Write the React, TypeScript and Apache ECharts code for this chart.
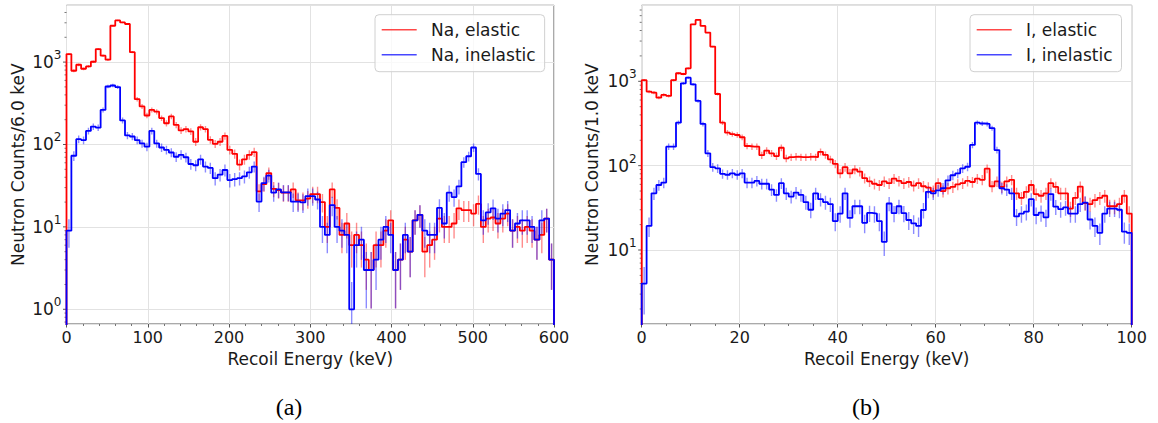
import { useEffect, useRef } from "react";
import * as echarts from "echarts";

// Counts per bin, read left to right. Na spectrum: 6 keV bins from 0 to 600 keV.
const naElastic = [
  1250, 785, 928, 830, 886, 1010, 1440, 1195, 1070, 2760,
  3200, 3030, 2900, 1320, 355, 290, 225, 263, 250, 209,
  181, 219, 173, 148, 154, 144, 108, 162, 154, 114,
  102, 108, 127, 86, 77, 57, 66, 75, 81, 27,
  33, 45, 29, 28, 26, 26, 28.5, 21, 21, 22,
  25, 25, 20, 10, 28.5, 17, 8, 11, 6, 8,
  6, 4, 3, 6, 6, 9, 12, 3, 4, 7,
  5, 12, 14, 5, 6, 7, 12.6, 10, 10, 11,
  16.8, 16, 16, 14.5, 19, 10, 12.6, 13, 11, 12.6,
  14.5, 9, 10, 9, 10, 9, 7, 8, 12.6, 4,
];

const naInelastic = [
  9, 73, 116, 113, 146, 165, 160, 263, 506, 520,
  497, 196, 129, 125, 113, 103, 94, 146, 103, 92,
  86, 80, 71, 75, 70, 58, 56, 66, 54, 52,
  39, 43, 49, 37, 38, 39, 41, 46, 54, 20.3,
  34, 42, 26, 28.5, 26.3, 26.3, 20.3, 20.3, 19.8, 23.6,
  23.6, 21.5, 10, 8, 18.4, 10, 9, 8, 1, 6,
  7, 3, 3, 4, 7, 10, 8, 3, 4, 8,
  5, 12, 14, 9, 8, 8, 17, 11, 26, 23,
  31, 61, 72, 92, 44, 12, 15, 16.8, 12.6, 14.5,
  16, 9, 11, 12, 12, 10, 7, 12, 12.6, 4,
];

// I spectrum: 1 keV bins from 0 to 100 keV.
const iElastic = [
  1030, 755, 734, 640, 690, 670, 1030, 1245, 1220, 1425,
  4740, 5340, 4530, 3780, 2580, 707, 323, 246, 237, 231,
  217, 171, 168, 168, 133, 151, 140, 130, 163, 122,
  126, 128, 126, 126, 128, 126, 146, 134, 119, 105,
  81, 96, 81, 90, 85, 71, 65, 61, 59, 65,
  62, 70, 66, 62, 64, 58, 62, 57, 55, 50,
  62, 50, 54, 56, 60, 62, 66, 64, 70, 68,
  92, 57, 65, 56, 65, 68, 47, 41.5, 49, 59,
  46, 44, 47, 62, 56, 47, 47, 31, 41.5, 56.5,
  36, 35, 39, 41.5, 44, 33, 33, 35, 44, 27,
];

const iInelastic = [
  4, 19.3, 47, 59, 63, 168, 168, 323, 947, 1105,
  920, 585, 312, 140, 96, 93, 80, 78, 81, 78,
  81, 63, 63, 66, 61, 61, 52, 45, 62, 47,
  43, 48, 45, 37, 30, 47, 40, 37, 35, 22,
  27, 47, 24, 33, 33, 21, 27.5, 27, 22, 12.5,
  35.6, 27.3, 33, 27.3, 22.7, 20.7, 19.3, 29.8, 49, 47,
  51, 54, 67, 77, 81, 93, 97, 176, 323, 316,
  312, 278, 153, 54, 52, 47, 25, 27, 28.5, 40,
  26, 27.7, 24.4, 46, 32.6, 30.5, 32, 27, 27, 35,
  36.5, 23, 19.3, 16, 27, 31, 31, 30, 16.5, 16,
];

const legendNames = [
  ["Na, elastic", "Na, inelastic"],
  ["I, elastic", "I, inelastic"],
];
const yTitles = ["Neutron Counts/6.0 keV", "Neutron Counts/1.0 keV"];
const xTitle = "Recoil Energy (keV)";
const captions = ["(a)", "(b)"];

// Statistical weight of one simulated count, used for the Poisson error bars.
const countWeight = 1.3;

const FONT = "DejaVu Sans";
const TEXT = "#1a1a1a";
const SPINE = "#555555";
const GRIDLINE = "#e2e2e2";
const RED = "#ff0000";
const BLUE = "#0000ff";

type Panel = {
  grid: { left: number; top: number; width: number; height: number };
  binWidth: number;
  xMax: number;
  xInterval: number;
  minorSplit: number;
  yMin: number;
  yMax: number;
  nameGap: number;
  sets: { name: string; values: number[]; color: string; light: string; legend: string }[];
  legendPos: { left: number; top: number };
  captionX: number;
};

const panels: Panel[] = [
  {
    grid: { left: 66.5, top: 5.3, width: 487.5, height: 318.7 },
    binWidth: 6,
    xMax: 600,
    xInterval: 100,
    minorSplit: 5,
    yMin: 0.663,
    yMax: 4890,
    nameGap: 40,
    sets: [
      { name: legendNames[0][0], values: naElastic, color: RED, light: "rgba(255,0,0,0.45)", legend: "rgba(255,0,0,0.72)" },
      { name: legendNames[0][1], values: naInelastic, color: BLUE, light: "rgba(0,0,255,0.45)", legend: "rgba(0,0,255,0.72)" },
    ],
    legendPos: { left: 375, top: 14.7 },
    captionX: 289,
  },
  {
    grid: { left: 641.7, top: 5.3, width: 490, height: 318.7 },
    binWidth: 1,
    xMax: 100,
    xInterval: 20,
    minorSplit: 4,
    yMin: 1.327,
    yMax: 7960,
    nameGap: 41.7,
    sets: [
      { name: legendNames[1][0], values: iElastic, color: RED, light: "rgba(255,0,0,0.45)", legend: "rgba(255,0,0,0.72)" },
      { name: legendNames[1][1], values: iInelastic, color: BLUE, light: "rgba(0,0,255,0.45)", legend: "rgba(0,0,255,0.72)" },
    ],
    legendPos: { left: 970, top: 14.7 },
    captionX: 866,
  },
];

const FLOOR = 1e-3;

// Histogram outline: rises from the floor at the first edge, steps across every bin, drops at the last edge.
function stepData(values: number[], bw: number) {
  const pts: number[][] = [[0, FLOOR]];
  values.forEach((v, i) => pts.push([i * bw, v]));
  const end = values.length * bw;
  pts.push([end, values[values.length - 1]]);
  pts.push([end, FLOOR]);
  return pts;
}

function errorData(values: number[], bw: number) {
  return values.map((v, i) => {
    const e = Math.sqrt(v * countWeight);
    return [i * bw + bw / 2, Math.max(v - e, FLOOR), v + e];
  });
}

function logTicks(min: number, max: number) {
  const out: number[] = [];
  for (let d = Math.floor(Math.log10(min)); d <= Math.ceil(Math.log10(max)); d++) {
    for (let m = 1; m <= 9; m++) {
      const v = m * Math.pow(10, d);
      if (v >= min && v <= max) out.push(v);
    }
  }
  return out;
}

function isPow10(v: number) {
  const l = Math.log10(v);
  return Math.abs(l - Math.round(l)) < 1e-6;
}

export default function App() {
  const ref = useRef<HTMLDivElement>(null);

  useEffect(() => {
    if (!ref.current) return;
    const chart = echarts.init(ref.current, undefined, { renderer: "svg" });

    const series: any[] = [];
    panels.forEach((p, pi) => {
      p.sets.forEach((s) => {
        series.push({
          type: "line",
          name: s.name,
          xAxisIndex: pi,
          yAxisIndex: pi,
          data: stepData(s.values, p.binWidth),
          step: "end",
          symbol: "none",
          showSymbol: false,
          clip: true,
          silent: true,
          lineStyle: { color: s.color, width: 1.8 },
          itemStyle: { color: s.color },
          emphasis: { disabled: true },
        });
        series.push({
          type: "custom",
          name: s.name + " errors",
          xAxisIndex: pi,
          yAxisIndex: pi,
          clip: true,
          silent: true,
          data: errorData(s.values, p.binWidth),
          encode: { x: 0, y: [1, 2] },
          renderItem: (_params: any, api: any) => {
            const x = api.value(0);
            const a = api.coord([x, api.value(2)]);
            const b = api.coord([x, api.value(1)]);
            return {
              type: "line",
              shape: { x1: a[0], y1: a[1], x2: b[0], y2: b[1] },
              style: { stroke: s.light, lineWidth: 1.4 },
            };
          },
        });
      });
      // y-axis major and minor ticks of the log scale
      series.push({
        type: "custom",
        name: "yticks" + pi,
        xAxisIndex: pi,
        yAxisIndex: pi,
        clip: false,
        silent: true,
        data: logTicks(p.yMin, p.yMax).map((v) => [0, v]),
        encode: { x: 0, y: 1 },
        renderItem: (_params: any, api: any) => {
          const v = api.value(1);
          const pt = api.coord([api.value(0), v]);
          const major = isPow10(v);
          const len = major ? 3.5 : 2;
          return {
            type: "line",
            shape: { x1: pt[0] - len, y1: pt[1], x2: pt[0], y2: pt[1] },
            style: { stroke: SPINE, lineWidth: major ? 1 : 0.8 },
          };
        },
      });
    });

    chart.setOption({
      animation: false,
      grid: panels.map((p) => ({
        ...p.grid,
        show: true,
        borderColor: SPINE,
        borderWidth: 1,
        backgroundColor: "transparent",
        containLabel: false,
        outerBoundsMode: "none",
      })),
      xAxis: panels.map((p, pi) => ({
        type: "value",
        gridIndex: pi,
        min: 0,
        max: p.xMax,
        interval: p.xInterval,
        axisLine: { show: false },
        axisTick: { show: true, length: 3.5, lineStyle: { color: SPINE, width: 1 } },
        minorTick: { show: true, splitNumber: p.minorSplit, length: 2, lineStyle: { color: SPINE, width: 0.8 } },
        axisLabel: { fontFamily: FONT, fontSize: 16, color: TEXT, margin: 5.5 },
        splitLine: { show: true, lineStyle: { color: GRIDLINE, width: 1 } },
        name: xTitle,
        nameLocation: "middle",
        nameGap: 24.5,
        nameTextStyle: { fontFamily: FONT, fontSize: 17, color: TEXT },
      })),
      yAxis: panels.map((p, pi) => ({
        type: "log",
        logBase: 10,
        gridIndex: pi,
        min: p.yMin,
        max: p.yMax,
        axisLine: { show: false },
        axisTick: { show: false },
        splitLine: { show: true, lineStyle: { color: GRIDLINE, width: 1 } },
        axisLabel: {
          margin: 5,
          formatter: (v: number) => (isPow10(v) ? `{b|10}{s|${Math.round(Math.log10(v))}}` : ""),
          rich: {
            b: { fontFamily: FONT, fontSize: 17, color: TEXT },
            s: { fontFamily: FONT, fontSize: 12, color: TEXT, padding: [0, 0, 14, 0] },
          },
        },
        name: yTitles[pi],
        nameLocation: "middle",
        nameGap: p.nameGap,
        nameTextStyle: { fontFamily: FONT, fontSize: 17, color: TEXT },
      })),
      legend: panels.map((p) => ({
        orient: "vertical",
        left: p.legendPos.left,
        top: p.legendPos.top,
        data: p.sets.map((s) => ({ name: s.name, itemStyle: { color: s.legend } })),
        icon: "rect",
        itemWidth: 35,
        itemHeight: 1.6,
        itemGap: 5,
        padding: [5, 9, 7, 6.7],
        backgroundColor: "rgba(255,255,255,0.8)",
        borderColor: "#d0d0d0",
        borderWidth: 1,
        borderRadius: 4,
        selectedMode: false,
        textStyle: { fontFamily: FONT, fontSize: 17, color: TEXT, lineHeight: 20, padding: [0, 0, 0, 9.3] },
      })),
      graphic: panels.map((p, pi) => ({
        type: "text",
        x: p.captionX,
        y: 407,
        style: {
          text: captions[pi],
          fontFamily: "Liberation Serif",
          fontSize: 24,
          fill: "#000",
          align: "center",
          verticalAlign: "middle",
        },
      })),
      series,
    });

    return () => chart.dispose();
  }, []);

  return (
    <div
      ref={ref}
      style={{ position: "fixed", left: 0, top: 0, width: 1158, height: 423, background: "#fff" }}
    />
  );
}
